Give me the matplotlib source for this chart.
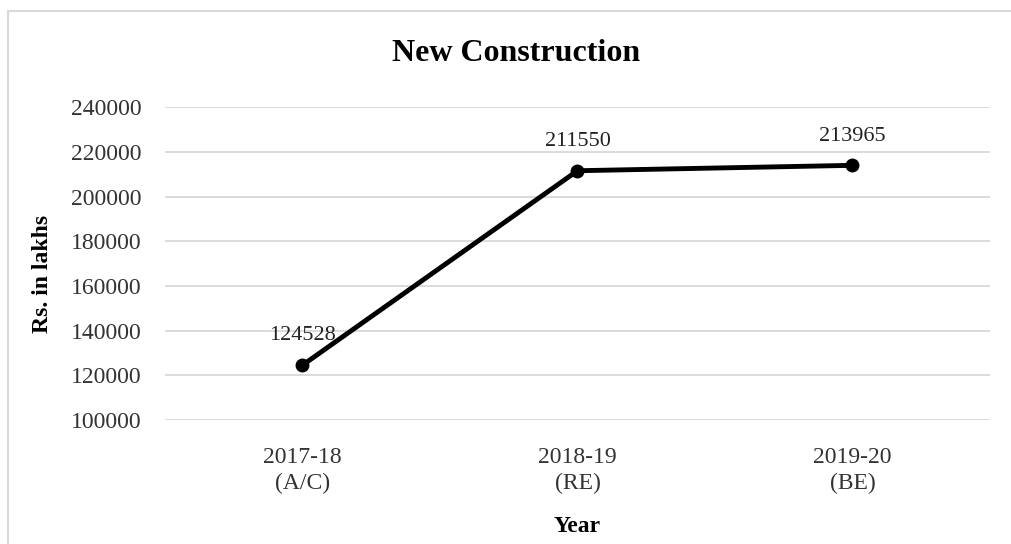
import matplotlib.pyplot as plt
from matplotlib.patches import Rectangle

years = ["2017-18\n(A/C)", "2018-19\n(RE)", "2019-20\n(BE)"]
amounts = [124528, 211550, 213965]
y_ticks = [100000, 120000, 140000, 160000, 180000, 200000, 220000, 240000]

plt.rcParams['font.family'] = ['Liberation Serif', 'DejaVu Serif']

fig = plt.figure(figsize=(10.11, 5.44), dpi=100)
ax = fig.add_axes([0.1632, 0.228, 0.816, 0.575])

# chart frame
fig.patches.append(Rectangle((0.008, -0.1), 1.2, 1.08, transform=fig.transFigure,
                             fill=False, edgecolor='#d9d9d9', linewidth=1.5))

x = range(len(years))
ax.plot(x, amounts, color='black', linewidth=3.5, marker='o', markersize=9,
        solid_capstyle='round', zorder=3)

for xi, v in zip(x, amounts):
    ax.annotate(str(v), (xi, v), xytext=(0, 21), textcoords='offset points',
                ha='center', va='center', fontsize=16, color='#222222')

ax.set_xlim(-0.5, 2.5)
ax.set_ylim(100000, 240000)
ax.set_yticks(y_ticks)
ax.set_yticklabels([str(t) for t in y_ticks])
ax.set_xticks(list(x))
ax.set_xticklabels(years, linespacing=1.3)
ax.tick_params(axis='y', length=0, pad=17, labelsize=17, labelcolor='#333333')
ax.tick_params(axis='x', length=0, pad=19.5, labelsize=17, labelcolor='#333333')

ax.grid(axis='y', color='#d9d9d9', linewidth=1.3)
ax.set_axisbelow(True)
for s in ax.spines.values():
    s.set_visible(False)

ax.set_title("New Construction", fontsize=23, fontweight='bold', pad=33, x=0.425)
ax.set_ylabel("Rs. in lakhs", fontsize=17, fontweight='bold')
ax.yaxis.set_label_coords(-0.136, 0.466)
ax.set_xlabel("Year", fontsize=17, fontweight='bold', labelpad=16)

fig.savefig("out.png", dpi=100)
